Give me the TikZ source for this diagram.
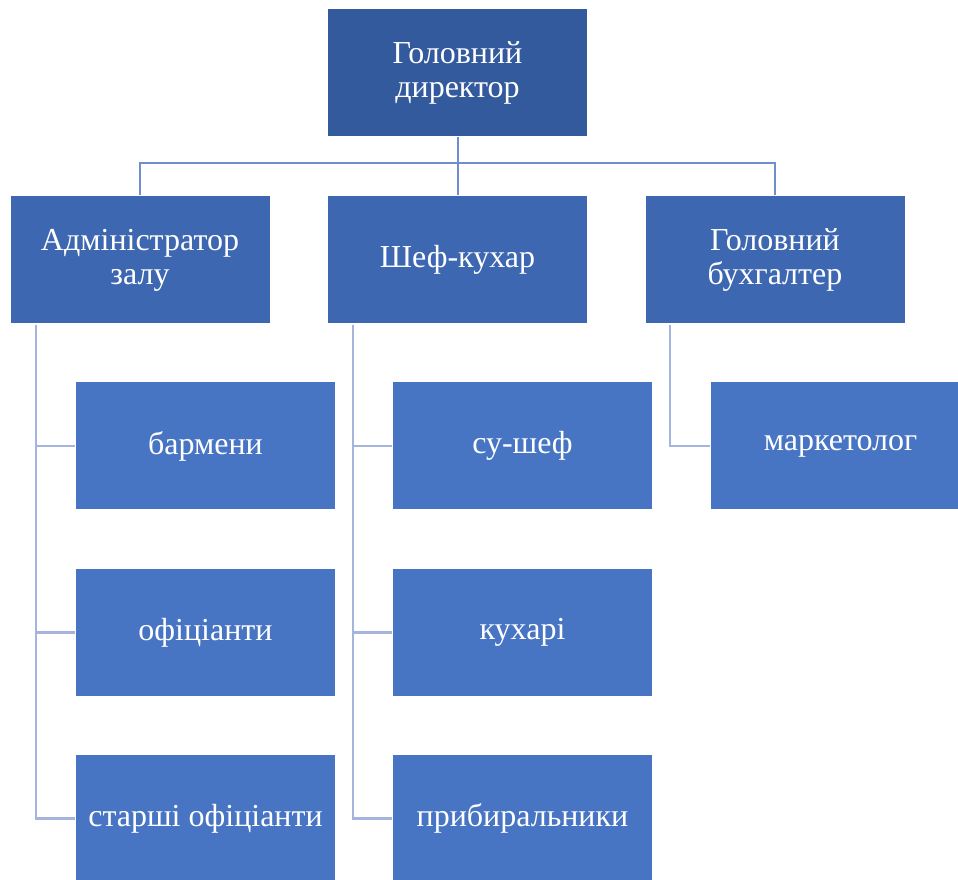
\documentclass[tikz,border=0pt]{standalone}
\usepackage{fontspec}
\setmainfont{Liberation Serif}
\usepackage{tikz}

\definecolor{boxtop}{RGB}{52,90,158}
\definecolor{boxmid}{RGB}{62,103,177}
\definecolor{boxlow}{RGB}{71,117,196}
\definecolor{linetop}{RGB}{111,141,207}
\definecolor{linelow}{RGB}{165,180,220}

\tikzset{
  post/.style={draw=white, line width=0.75pt, text=white, align=center,
    minimum width=195pt, minimum height=96pt, inner sep=0pt,
    font=\fontsize{24}{25.5}\selectfont},
  toplink/.style={draw=linetop, line width=1.5pt},
  lowlink/.style={draw=linelow, line width=1.8pt}
}

\begin{document}
\begin{tikzpicture}[x=0.75pt,y=0.75pt,yscale=-1,xscale=1]
\useasboundingbox (0,0) rectangle (958,880);
\clip (0,0) rectangle (958,880);

% Nodes
\node [post, fill=boxtop] (dir) at (457.5,73) {Головний\\директор};
\node [post, fill=boxmid] (adm) at (140,260) {Адміністратор\\залу};
\node [post, fill=boxmid] (chef) at (457.5,260) {Шеф-кухар};
\node [post, fill=boxmid] (acc) at (775,260) {Головний\\бухгалтер};

\node [post, fill=boxlow] (barm) at (205.5,446) {бармени};
\node [post, fill=boxlow] (waiter) at (205.5,632.5) {офіціанти};
\node [post, fill=boxlow] (headw) at (205.5,818.5) {старші офіціанти};

\node [post, fill=boxlow] (sous) at (522.5,446) {су-шеф};
\node [post, fill=boxlow] (cooks) at (522.5,632.5) {кухарі};
\node [post, fill=boxlow] (clean) at (522.5,818.5) {прибиральники};

\node [post, fill=boxlow] (mark) at (840.5,446) {маркетолог};

% Top links
\coordinate (bus) at (457.5,163);
\draw [toplink] (dir.south) -- (bus);
\draw [toplink] (adm.north) |- (bus);
\draw [toplink] (acc.north) |- (bus);
\draw [toplink] (chef.north) -- (bus);

% Lower links
\coordinate (admtrunk) at (36,325);
\coordinate (cheftrunk) at (353,325);
\coordinate (acctrunk) at (670,325);
\draw [lowlink] (admtrunk) |- (barm.west);
\draw [lowlink] (admtrunk) |- (waiter.west);
\draw [lowlink] (admtrunk) |- (headw.west);
\draw [lowlink] (cheftrunk) |- (sous.west);
\draw [lowlink] (cheftrunk) |- (cooks.west);
\draw [lowlink] (cheftrunk) |- (clean.west);
\draw [lowlink] (acctrunk) |- (mark.west);

\end{tikzpicture}
\end{document}
